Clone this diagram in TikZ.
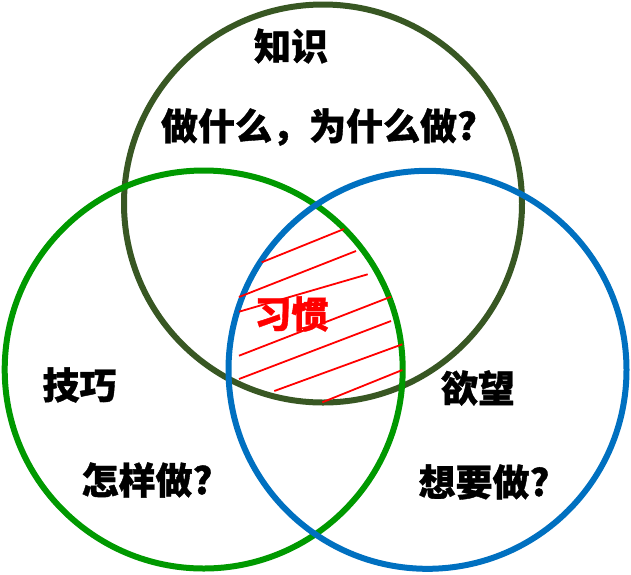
\documentclass[tikz,border=0pt]{standalone}
\usepackage{fontspec}
\newfontfamily\cjk{Noto Sans CJK SC}[BoldFeatures={FakeBold=1}]
\definecolor{knowgreen}{RGB}{56,87,35}
\definecolor{skillgreen}{RGB}{0,153,0}
\definecolor{desireblue}{RGB}{0,112,192}
\begin{document}
\begin{tikzpicture}[x=1pt,y=-1pt,
  ring/.style={circle,draw,line width=6pt,minimum size=398pt,inner sep=0pt,outer sep=0pt},
  lbl/.style={font=\cjk\bfseries\fontsize{37}{40}\selectfont,inner sep=0pt},
  hatchline/.style={red,line width=1.8pt}]
\useasboundingbox (0,0) rectangle (631,574);
\node[ring,draw=knowgreen] (know) at (323,203.5) {};
\node[ring,draw=skillgreen] (skill) at (203.7,369.5) {};
\node[ring,draw=desireblue] (desire) at (427.5,369.8) {};
% hatching of the common region
\coordinate (h1a) at (261.7,262.3); \coordinate (h1b) at (344,229);
\coordinate (h2a) at (239,297);     \coordinate (h2b) at (356,251);
\coordinate (h3a) at (239,311.7);   \coordinate (h3b) at (367.7,274.3);
\coordinate (h4a) at (239,355.7);   \coordinate (h4b) at (391,296.7);
\coordinate (h5a) at (239,379);     \coordinate (h5b) at (391,321);
\coordinate (h6a) at (274.3,391);   \coordinate (h6b) at (402.3,344.3);
\coordinate (h7a) at (322.3,402.3); \coordinate (h7b) at (402.3,370);
\foreach \i in {1,...,7} {\draw[hatchline] (h\i a) -- (h\i b);}
% labels
\node[lbl] (tknow) at (291,46) {知识};
\node[lbl] (qknow) at (319,127) {做什么，为什么做?};
\node[lbl] (tskill) at (79.5,385) {技巧};
\node[lbl] (qskill) at (147,480) {怎样做?};
\node[lbl] (tdesire) at (478,388) {欲望};
\node[lbl] (qdesire) at (484,482) {想要做?};
\node[lbl,text=red] (habit) at (291.5,314) {习惯};
\end{tikzpicture}
\end{document}
